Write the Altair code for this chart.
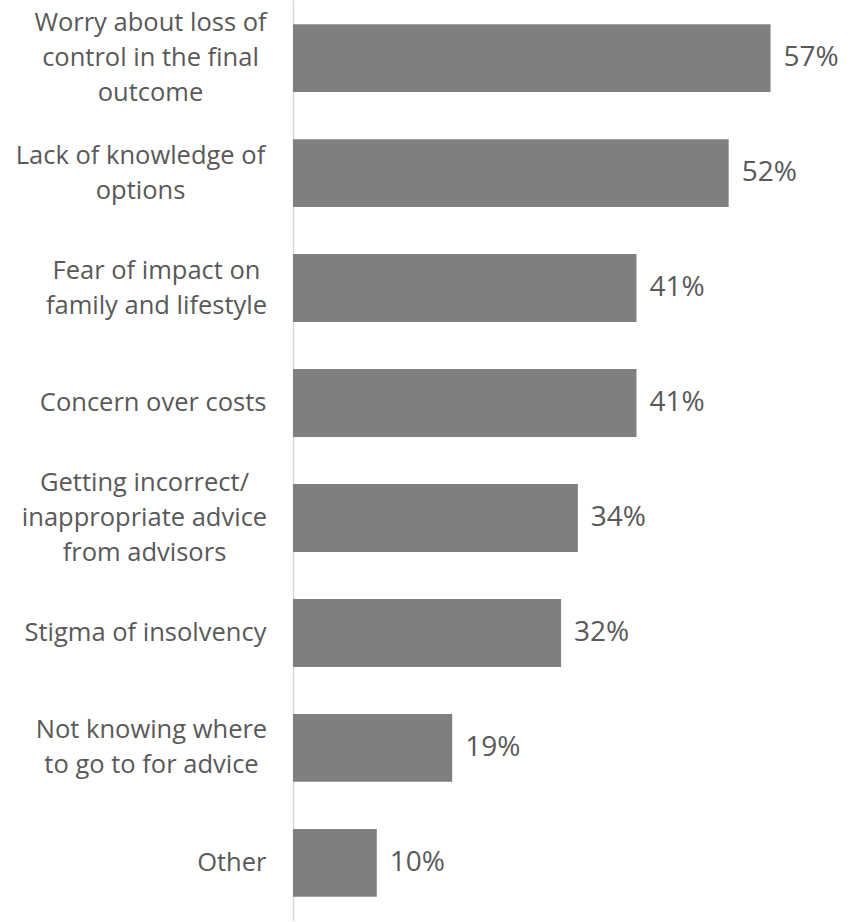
import altair as alt
import pandas as pd

# ---- data ----
label_lines = [
    ["Worry about loss of", "control in the final", "outcome"],
    ["Lack of knowledge of", "options"],
    ["Fear of impact on", "family and lifestyle"],
    ["Concern over costs"],
    ["Getting incorrect/", "inappropriate advice", "from advisors"],
    ["Stigma of insolvency"],
    ["Not knowing where", "to go to for advice"],
    ["Other"],
]
values = [57, 52, 41, 41, 34, 32, 19, 10]

# ---- styling (half width of widest line of each multi-line label, px) ----
half_widths = {
    "Worry about loss of|control in the final|outcome": 116,
    "Lack of knowledge of|options": 126,
    "Fear of impact on|family and lifestyle": 110,
    "Getting incorrect/|inappropriate advice|from advisors": 122,
    "Not knowing where|to go to for advice": 115,
}
LABEL_GAP = 27
LINE_HEIGHT = 35

labels = ["|".join(l) for l in label_lines]
df = pd.DataFrame({
    "label": labels,
    "value": values,
    "text": [f"{v}%" for v in values],
})

pad_conditions = [
    {"test": f"datum.value === '{k}'", "value": LABEL_GAP + w}
    for k, w in half_widths.items()
]
offset_conditions = [
    {"test": f"datum.value === '{k}'", "value": -(len(k.split('|')) - 1) * LINE_HEIGHT / 2}
    for k in labels if "|" in k
]
align_test = " || ".join(f"datum.value === '{k}'" for k in half_widths)

y_enc = alt.Y(
    "label:N",
    sort=labels,
    scale=alt.Scale(paddingInner=0.41, paddingOuter=0.21),
    axis=alt.Axis(
        title=None,
        labelExpr="split(datum.label, '|')",
        ticks=False,
        tickSize=0,
        domain=True,
        domainColor="#d9d9d9",
        domainWidth=1.5,
        labelFont="Open Sans",
        labelFontSize=25.5,
        labelColor="#595959",
        labelLineHeight=LINE_HEIGHT,
        labelLimit=400,
        labelAlign={"condition": {"test": align_test, "value": "center"}, "value": "right"},
        labelPadding={"condition": pad_conditions, "value": LABEL_GAP},
        labelOffset={"condition": offset_conditions, "value": 0},
    ),
)

x_enc = alt.X("value:Q", scale=alt.Scale(domain=[0, 67.2]), axis=None)

bars = alt.Chart(df).mark_bar(color="#7f7f7f").encode(x=x_enc, y=y_enc)
texts = alt.Chart(df).mark_text(
    align="left", baseline="middle", dx=13, font="Open Sans", fontSize=28, color="#595959"
).encode(x=x_enc, y=alt.Y("label:N", sort=labels), text="text:N")

chart = (
    alt.layer(bars, texts)
    .properties(
        width=563,
        height=921,
        autosize=alt.AutoSizeParams(type="none"),
        padding={"left": 293, "top": 0, "right": 0, "bottom": 0},
        background="white",
    )
    .configure_view(stroke=None)
)

chart.save("out.html", embed_options={"renderer": "svg", "actions": False})
